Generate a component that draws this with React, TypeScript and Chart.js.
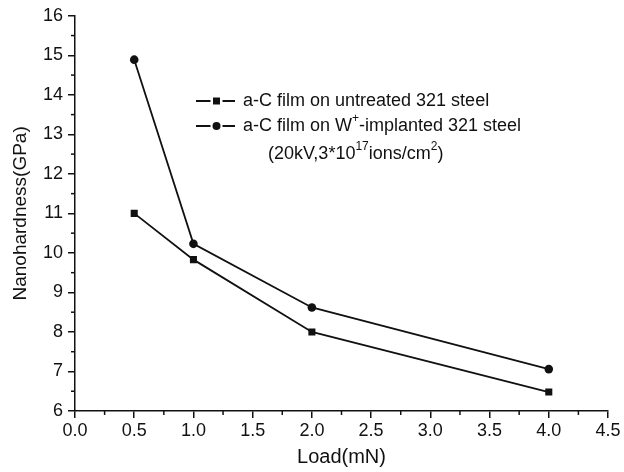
import { useEffect, useRef } from 'react';
import { Chart, registerables } from 'chart.js';

Chart.register(...registerables);

const loads = [0.5, 1.0, 2.0, 4.0];
const untreated = [11.0, 9.83, 8.0, 6.48];
const implanted = [14.89, 10.23, 8.62, 7.06];

const seriesNames = ['a-C film on untreated 321 steel', 'a-C film on W+-implanted 321 steel'];

type Piece = { t: string; sup?: boolean };
const legendRows: Piece[][] = [
  [{ t: 'a-C film on untreated 321 steel' }],
  [{ t: 'a-C film on W' }, { t: '+', sup: true }, { t: '-implanted 321 steel' }],
  [{ t: '(20kV,3*10' }, { t: '17', sup: true }, { t: 'ions/cm' }, { t: '2', sup: true }, { t: ')' }],
];

const FONT = "'Liberation Sans', Arial, Helvetica, sans-serif";
const INK = '#111111';

const minorTicksPlugin = {
  id: 'minorTicks',
  afterDraw(chart: any) {
    const { ctx } = chart;
    const x = chart.scales.x;
    const y = chart.scales.y;
    ctx.save();
    ctx.strokeStyle = INK;
    ctx.lineWidth = 1.5;
    const xt = x.ticks.map((t: any) => t.value);
    for (let i = 0; i < xt.length - 1; i++) {
      const px = x.getPixelForValue((xt[i] + xt[i + 1]) / 2);
      ctx.beginPath();
      ctx.moveTo(px, x.top);
      ctx.lineTo(px, x.top + 4);
      ctx.stroke();
    }
    const yt = y.ticks.map((t: any) => t.value);
    for (let i = 0; i < yt.length - 1; i++) {
      const py = y.getPixelForValue((yt[i] + yt[i + 1]) / 2);
      ctx.beginPath();
      ctx.moveTo(y.right, py);
      ctx.lineTo(y.right - 4, py);
      ctx.stroke();
    }
    ctx.restore();
  },
};

const legendPlugin = {
  id: 'customLegend',
  afterDraw(chart: any) {
    const { ctx } = chart;
    ctx.save();
    ctx.fillStyle = INK;
    ctx.strokeStyle = INK;
    const rowsY = [101, 126, 154];
    const sampleX0 = 196;
    const sampleX1 = 235;
    const markX = 216.5;
    const textX = [243, 243, 268];
    for (let i = 0; i < 2; i++) {
      const yy = rowsY[i];
      ctx.lineWidth = 1.8;
      ctx.beginPath();
      ctx.moveTo(sampleX0, yy);
      ctx.lineTo(markX - 6, yy);
      ctx.moveTo(markX + 6, yy);
      ctx.lineTo(sampleX1, yy);
      ctx.stroke();
      ctx.beginPath();
      if (i === 0) {
        ctx.rect(markX - 3.5, yy - 3.5, 7, 7);
      } else {
        ctx.arc(markX, yy, 4, 0, Math.PI * 2);
      }
      ctx.fill();
    }
    ctx.textBaseline = 'middle';
    ctx.textAlign = 'left';
    legendRows.forEach((row, i) => {
      let cx = textX[i];
      const yy = rowsY[i];
      row.forEach((p) => {
        if (p.sup) {
          ctx.font = `12px ${FONT}`;
          ctx.fillText(p.t, cx, yy - 7);
        } else {
          ctx.font = `18px ${FONT}`;
          ctx.fillText(p.t, cx, yy);
        }
        cx += ctx.measureText(p.t).width;
      });
    });
    ctx.restore();
  },
};

export default function App() {
  const ref = useRef<HTMLCanvasElement | null>(null);
  useEffect(() => {
    document.body.style.margin = '0';
    const canvas = ref.current;
    if (!canvas) return;
    const tickFont = { family: FONT, size: 18 };
    const chart = new Chart(canvas, {
      type: 'line',
      data: {
        datasets: [
          {
            label: seriesNames[0],
            data: loads.map((x, i) => ({ x, y: untreated[i] })),
            borderColor: INK,
            backgroundColor: INK,
            borderWidth: 1.8,
            pointStyle: 'rect',
            pointRadius: 5,
            pointBorderWidth: 0,
            tension: 0,
          },
          {
            label: seriesNames[1],
            data: loads.map((x, i) => ({ x, y: implanted[i] })),
            borderColor: INK,
            backgroundColor: INK,
            borderWidth: 1.8,
            pointStyle: 'circle',
            pointRadius: 4.3,
            pointBorderWidth: 0,
            tension: 0,
          },
        ],
      },
      options: {
        animation: false,
        responsive: false,
        maintainAspectRatio: false,
        devicePixelRatio: 1,
        layout: { padding: { top: 14, right: 16, left: 0, bottom: 0 } },
        plugins: {
          legend: { display: false },
          tooltip: { enabled: false },
        },
        scales: {
          x: {
            type: 'linear',
            min: 0,
            max: 4.5,
            ticks: {
              stepSize: 0.5,
              autoSkip: false,
              maxRotation: 0,
              color: INK,
              font: tickFont,
              padding: 2,
              callback: (v: any) => Number(v).toFixed(1),
            },
            grid: { drawOnChartArea: false, drawTicks: true, tickLength: 7, color: INK, lineWidth: 1.5 },
            border: { display: true, color: INK, width: 1.5 },
            title: { display: true, text: 'Load(mN)', color: INK, font: { family: FONT, size: 20 }, padding: { top: 0, bottom: 3 } },
            afterFit: (s: any) => {
              s.height = 61;
            },
          },
          y: {
            type: 'linear',
            min: 6,
            max: 16,
            ticks: { stepSize: 1, color: INK, font: tickFont, padding: 5 },
            grid: { drawOnChartArea: false, drawTicks: true, tickLength: 7, color: INK, lineWidth: 1.5 },
            border: { display: true, color: INK, width: 1.5 },
            title: { display: true, text: 'Nanohardness(GPa)', color: INK, font: { family: FONT, size: 19 }, padding: { top: 9, bottom: 0 } },
            afterFit: (s: any) => {
              s.width = 75;
            },
          },
        },
      },
      plugins: [minorTicksPlugin, legendPlugin],
    });
    return () => chart.destroy();
  }, []);
  return <canvas ref={ref} width={624} height={472} style={{ display: 'block' }} />;
}
